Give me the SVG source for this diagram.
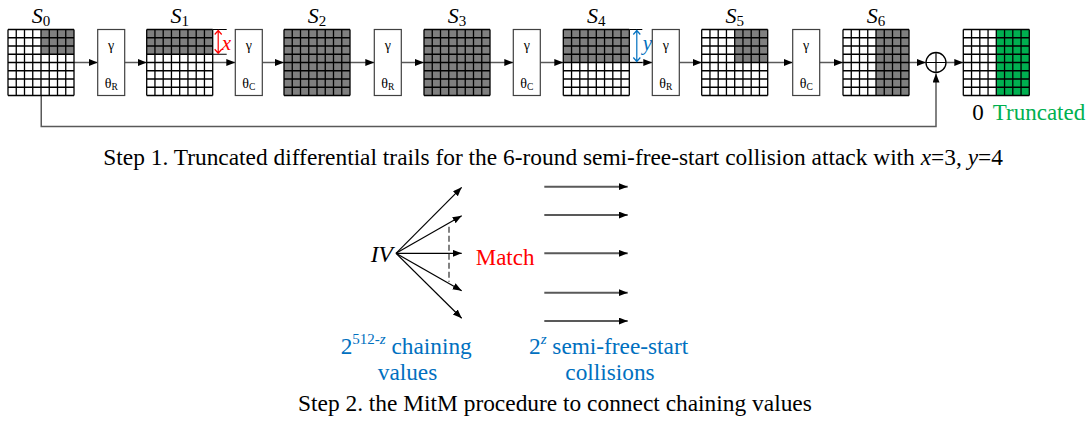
<svg xmlns="http://www.w3.org/2000/svg" xmlns:xlink="http://www.w3.org/1999/xlink" width="1091" height="426" viewBox="0 0 1091 426" font-family="Liberation Serif">
<style>
.bg{fill:#fff;}
.gy{fill:#7f7f7f;}
.gn{fill:#00b050;}
.gl{fill:none;stroke:#000;stroke-width:1.3;}
.box{fill:#fff;stroke:#404040;stroke-width:1.2;}
.conn{fill:none;stroke:#595959;stroke-width:1.5;}
.fan{fill:none;stroke:#000;stroke-width:1.2;}
.rar{fill:none;stroke:#595959;stroke-width:2;}
.lbl{font-size:22px;font-style:italic;}
.sub{font-size:15px;font-style:normal;}
.g{font-size:14px;}
.th{font-size:14px;}
.ths{font-size:9.5px;}
.cap{font-size:23.4px;}
.blue{fill:#0070c0;font-size:23.3px;}
</style>
<defs>
<marker id="ah" markerUnits="userSpaceOnUse" markerWidth="10" markerHeight="8" refX="9" refY="3.5" orient="auto">
<path d="M0,0 L9,3.5 L0,7 z" fill="#000"/>
</marker>
<path id="grid" class="gl" d="M0,0H66M0,8.25H66M0,16.5H66M0,24.75H66M0,33H66M0,41.25H66M0,49.5H66M0,57.75H66M0,66H66M0,0V66M8.25,0V66M16.5,0V66M24.75,0V66M33,0V66M41.25,0V66M49.5,0V66M57.75,0V66M66,0V66"/>
<g id="boxR" font-family="Liberation Serif"><rect class="box" x="0" y="0" width="27" height="66"/><text class="g" x="13.5" y="20" text-anchor="middle">γ</text><text class="th" x="13.5" y="58" text-anchor="middle">θ<tspan class="ths" dy="2">R</tspan></text></g>
<g id="boxC" font-family="Liberation Serif"><rect class="box" x="0" y="0" width="27" height="66"/><text class="g" x="13.5" y="20" text-anchor="middle">γ</text><text class="th" x="13.5" y="58" text-anchor="middle">θ<tspan class="ths" dy="2">C</tspan></text></g>
</defs>
<rect width="1091" height="426" fill="#fff"/>

<g id="connectors">
<path class="conn" d="M41.25,95.5V126.5H936V73.5" marker-end="url(#ah)"/>
<line class="conn" x1="74" y1="62.5" x2="97.7" y2="62.5" marker-end="url(#ah)"/>
<line class="conn" x1="124.7" y1="62.5" x2="146.7" y2="62.5" marker-end="url(#ah)"/>
<line class="conn" x1="212.7" y1="62.5" x2="235.3" y2="62.5" marker-end="url(#ah)"/>
<line class="conn" x1="262.3" y1="62.5" x2="284" y2="62.5" marker-end="url(#ah)"/>
<line class="conn" x1="350" y1="62.5" x2="374.3" y2="62.5" marker-end="url(#ah)"/>
<line class="conn" x1="401.3" y1="62.5" x2="424" y2="62.5" marker-end="url(#ah)"/>
<line class="conn" x1="490" y1="62.5" x2="513.3" y2="62.5" marker-end="url(#ah)"/>
<line class="conn" x1="540.3" y1="62.5" x2="563.3" y2="62.5" marker-end="url(#ah)"/>
<line class="conn" x1="629.3" y1="62.5" x2="652.3" y2="62.5" marker-end="url(#ah)"/>
<line class="conn" x1="679.3" y1="62.5" x2="701.7" y2="62.5" marker-end="url(#ah)"/>
<line class="conn" x1="767.7" y1="62.5" x2="792.7" y2="62.5" marker-end="url(#ah)"/>
<line class="conn" x1="819.7" y1="62.5" x2="843" y2="62.5" marker-end="url(#ah)"/>
<line class="conn" x1="909" y1="62.5" x2="926" y2="62.5" marker-end="url(#ah)"/>
<line class="conn" x1="946" y1="62.5" x2="963.3" y2="62.5" marker-end="url(#ah)"/>

<g id="fan">
<line class="fan" x1="396" y1="253.3" x2="461.7" y2="187.3" marker-end="url(#ah)"/>
<line class="fan" x1="396" y1="253.3" x2="461.7" y2="215.7" marker-end="url(#ah)"/>
<line class="fan" x1="396" y1="253.3" x2="461.7" y2="253.3" marker-end="url(#ah)"/>
<line class="fan" x1="396" y1="253.3" x2="461.7" y2="290.7" marker-end="url(#ah)"/>
<line class="fan" x1="396" y1="253.3" x2="461.7" y2="318.3" marker-end="url(#ah)"/>
<line x1="449" y1="226.7" x2="449" y2="281.7" stroke="#404040" stroke-width="1.3" stroke-dasharray="6,3"/>
</g>
<g id="rightarrows">
<line class="rar" x1="544.3" y1="186.7" x2="627.7" y2="186.7" marker-end="url(#ah)"/>
<line class="rar" x1="544.3" y1="215" x2="627.7" y2="215" marker-end="url(#ah)"/>
<line class="rar" x1="544.3" y1="253.3" x2="627.7" y2="253.3" marker-end="url(#ah)"/>
<line class="rar" x1="544.3" y1="292.7" x2="627.7" y2="292.7" marker-end="url(#ah)"/>
<line class="rar" x1="544.3" y1="321" x2="627.7" y2="321" marker-end="url(#ah)"/>
</g>
</g>

<g id="S0" transform="translate(8,29.5)">
<rect class="bg" width="66" height="66"/><rect class="gy" x="33" width="33" height="24.75"/><use xlink:href="#grid"/>
<text class="lbl" x="33" y="-7" text-anchor="middle" font-family="Liberation Serif">S<tspan class="sub" dy="3">0</tspan></text>
</g>
<g id="B1" transform="translate(97.7,29.5)"><use xlink:href="#boxR"/></g>
<g id="S1" transform="translate(146.7,29.5)">
<rect class="bg" width="66" height="66"/><rect class="gy" width="66" height="24.75"/><use xlink:href="#grid"/>
<path d="M66,0H80M66,24.75H80" stroke="#000" stroke-width="1.2" fill="none"/>
<path d="M71.5,1V23.75M68,5L71.5,1L75,5M68,19.75L71.5,23.75L75,19.75" stroke="#ff0000" stroke-width="1.2" fill="none"/>
<text x="75" y="20" font-size="21" font-style="italic" fill="#ff0000" font-family="Liberation Serif">x</text>
<text class="lbl" x="33" y="-7" text-anchor="middle" font-family="Liberation Serif">S<tspan class="sub" dy="3">1</tspan></text>
</g>
<g id="B2" transform="translate(235.3,29.5)"><use xlink:href="#boxC"/></g>
<g id="S2" transform="translate(284,29.5)">
<rect class="gy" width="66" height="66"/><use xlink:href="#grid"/>
<text class="lbl" x="33" y="-7" text-anchor="middle" font-family="Liberation Serif">S<tspan class="sub" dy="3">2</tspan></text>
</g>
<g id="B3" transform="translate(374.3,29.5)"><use xlink:href="#boxR"/></g>
<g id="S3" transform="translate(424,29.5)">
<rect class="gy" width="66" height="66"/><use xlink:href="#grid"/>
<text class="lbl" x="33" y="-7" text-anchor="middle" font-family="Liberation Serif">S<tspan class="sub" dy="3">3</tspan></text>
</g>
<g id="B4" transform="translate(513.3,29.5)"><use xlink:href="#boxC"/></g>
<g id="S4" transform="translate(563.3,29.5)">
<rect class="bg" width="66" height="66"/><rect class="gy" width="66" height="33"/><use xlink:href="#grid"/>
<path d="M66,0H79M66,33H79" stroke="#000" stroke-width="1.2" fill="none"/>
<path d="M73.5,1V32M70,5L73.5,1L77,5M70,28L73.5,32L77,28" stroke="#0070c0" stroke-width="1.2" fill="none"/>
<text x="79.5" y="20" font-size="21" font-style="italic" fill="#0070c0" font-family="Liberation Serif">y</text>
<text class="lbl" x="33" y="-7" text-anchor="middle" font-family="Liberation Serif">S<tspan class="sub" dy="3">4</tspan></text>
</g>
<g id="B5" transform="translate(652.3,29.5)"><use xlink:href="#boxR"/></g>
<g id="S5" transform="translate(701.7,29.5)">
<rect class="bg" width="66" height="66"/><rect class="gy" x="33" width="33" height="33"/><use xlink:href="#grid"/>
<text class="lbl" x="33" y="-7" text-anchor="middle" font-family="Liberation Serif">S<tspan class="sub" dy="3">5</tspan></text>
</g>
<g id="B6" transform="translate(792.7,29.5)"><use xlink:href="#boxC"/></g>
<g id="S6" transform="translate(843,29.5)">
<rect class="bg" width="66" height="66"/><rect class="gy" x="33" width="33" height="66"/><use xlink:href="#grid"/>
<text class="lbl" x="33" y="-7" text-anchor="middle" font-family="Liberation Serif">S<tspan class="sub" dy="3">6</tspan></text>
</g>
<g id="xor">
<circle cx="936" cy="62.5" r="10" fill="#fff" stroke="#000" stroke-width="1.3"/>
<path d="M926,62.5H946M936,52.5V72.5" stroke="#000" stroke-width="1.2"/>
</g>
<g id="OUT" transform="translate(963.3,29.5)">
<rect class="bg" width="66" height="66"/><rect class="gn" x="33" width="33" height="66"/><use xlink:href="#grid"/>
<text x="9" y="90" font-size="23" font-family="Liberation Serif">0</text>
<text x="29.5" y="90" font-size="23" fill="#00b050" font-family="Liberation Serif">Truncated</text>
</g>

<text class="cap" x="103.3" y="165" font-family="Liberation Serif">Step 1. Truncated differential trails for the 6-round semi-free-start collision attack with <tspan font-style="italic">x</tspan>=3, <tspan font-style="italic">y</tspan>=4</text>

<g id="IV"><text x="370.7" y="261.7" font-size="23.5" font-style="italic" font-family="Liberation Serif">IV</text></g>
<g id="match"><text x="475.7" y="265" font-size="23" fill="#ff0000" font-family="Liberation Serif">Match</text></g>
<g id="chain" font-family="Liberation Serif">
<text class="blue" x="340.7" y="354" font-family="Liberation Serif">2<tspan font-size="15" dy="-10">512-</tspan><tspan font-size="15" font-style="italic">z</tspan><tspan dy="10"> chaining</tspan></text>
<text class="blue" x="407.5" y="380" text-anchor="middle" font-family="Liberation Serif">values</text>
</g>
<g id="sfs" font-family="Liberation Serif">
<text class="blue" x="529" y="354" font-family="Liberation Serif">2<tspan font-size="15" font-style="italic" dy="-10">z</tspan><tspan dy="10"> semi-free-start</tspan></text>
<text class="blue" x="610" y="380" text-anchor="middle" font-family="Liberation Serif">collisions</text>
</g>
<text class="cap" x="298" y="411" font-family="Liberation Serif">Step 2. the MitM procedure to connect chaining values</text>
</svg>
